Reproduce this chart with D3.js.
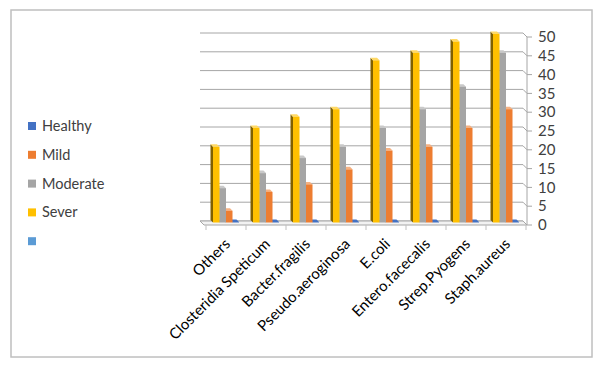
<!DOCTYPE html>
<html>
<head>
<meta charset="utf-8">
<script src="https://cdn.jsdelivr.net/npm/d3@7"></script>
<style>
  body { margin: 0; background: #fff; }
  svg { display: block; font-family: Lato, "Open Sans", sans-serif; }
</style>
</head>
<body>
<svg id="chart" width="600" height="367"></svg>
<script>
// chart data
const categories = ["Others", "Closteridia Speticum", "Bacter.fragilis", "Pseudo.aeroginosa",
                    "E.coli", "Entero.facecalis", "Strep.Pyogens", "Staph.aureus"];
const healthy  = [0, 0, 0, 0, 0, 0, 0, 0];
const mild     = [3, 8, 10, 14, 19, 20, 25, 30];
const moderate = [9, 13, 17, 20, 25, 30, 36, 45];
const sever    = [20, 25, 28, 30, 43, 45, 48, 50];
const yTicks   = [0, 5, 10, 15, 20, 25, 30, 35, 40, 45, 50];
const legendNames = ["Healthy", "Mild", "Moderate", "Sever", ""];

const series = [
    { name: "Sever",    values: sever,    color: "#FFC000", side: "#7F6000", top: "#FFD966" },
    { name: "Moderate", values: moderate, color: "#A5A5A5", side: "#6E6E6E", top: "#C9C9C9" },
    { name: "Mild",     values: mild,     color: "#ED7D31", side: "#9E4F1A", top: "#F4B183" },
    { name: "Healthy",  values: healthy,  color: "#4472C4", side: "#2F5597", top: "#4472C4" }
];
const legendColors = ["#4472C4", "#ED7D31", "#A5A5A5", "#FFC000", "#5B9BD5"];

const svg = d3.select("#chart");

// outer frame
svg.append("rect")
    .attr("x", 11).attr("y", 10).attr("width", 581).attr("height", 347)
    .attr("fill", "none").attr("stroke", "#BFBFBF").attr("stroke-width", 1.5);

const depth = 4;   // 3d offset of back wall
const y = d3.scaleLinear().domain([0, 50]).range([222, 34]);
const x0 = d3.scaleBand().domain(categories).range([206, 526]);
const x1 = d3.scaleBand().domain(series.map(s => s.name))
    .range([x0.bandwidth() * 0.175, x0.bandwidth() * 0.825]);

const wallLeft = 200, wallRight = 523;

// back wall grid lines and right side wall
const grid = svg.append("g");
yTicks.forEach(t => {
    const yb = y(t) - 1;
    grid.append("line")
        .attr("x1", wallLeft).attr("x2", wallRight)
        .attr("y1", yb).attr("y2", yb)
        .attr("stroke", "#A6A6A6").attr("stroke-width", 1);
    grid.append("path")
        .attr("d", `M${wallRight},${yb} L${wallRight + depth},${yb + depth} L${wallRight + 9},${yb + depth}`)
        .attr("fill", "none").attr("stroke", "#A6A6A6").attr("stroke-width", 1);
});
grid.append("line")
    .attr("x1", wallRight + depth).attr("x2", wallRight + depth)
    .attr("y1", y(50) - 1 + depth).attr("y2", y(0) - 1 + depth)
    .attr("stroke", "#A6A6A6");

// floor
const f0 = y(0) - 1;
svg.append("path")
    .attr("d", `M${wallLeft},${f0} L${wallRight},${f0} L${wallRight + depth},${f0 + depth} L${wallLeft + depth},${f0 + depth} Z`)
    .attr("fill", "#F2F2F2").attr("stroke", "#A6A6A6").attr("stroke-width", 1);

// category ticks
const tickXs = categories.map(c => x0(c)).concat([x0.range()[1]]);
svg.append("g").selectAll("line").data(tickXs).join("line")
    .attr("x1", d => d).attr("x2", d => d)
    .attr("y1", f0 + depth).attr("y2", f0 + depth + 5)
    .attr("stroke", "#BFBFBF");

// y labels
svg.append("g").selectAll("text").data(yTicks).join("text")
    .attr("x", 538).attr("y", d => y(d) + 3)
    .attr("dy", "0.35em")
    .attr("font-size", 15).attr("fill", "#404040")
    .text(d => d);

// bars (drawn back-to-front so the left bar covers its neighbour's side)
const bars = svg.append("g");
const sd = 2.5;
categories.forEach((c, i) => {
    series.slice().reverse().forEach(s => {
        const v = s.values[i];
        const bx = x0(c) + x1(s.name);
        const bw = x1.bandwidth();
        const top = y(v);
        const bot = y(0) + 0.5;
        // left side face
        bars.append("path")
            .attr("d", `M${bx},${top} L${bx - sd},${top - sd} L${bx - sd},${bot - sd} L${bx},${bot} Z`)
            .attr("fill", s.side);
        // top face
        bars.append("path")
            .attr("d", `M${bx},${top} L${bx - sd},${top - sd} L${bx + bw - sd},${top - sd} L${bx + bw},${top} Z`)
            .attr("fill", s.top);
        // front face
        bars.append("rect")
            .attr("x", bx).attr("y", top)
            .attr("width", bw).attr("height", bot - top)
            .attr("fill", s.color);
    });
});

// category labels
svg.append("g").selectAll("text").data(categories).join("text")
    .attr("transform", d => `translate(${x0(d) + x0.bandwidth() / 2 + 5},${245}) rotate(-45)`)
    .attr("text-anchor", "end")
    .attr("font-size", 15).attr("fill", "#000")
    .text(d => d);

// legend
const legend = svg.append("g");
legendNames.forEach((n, i) => {
    const ly = 126 + i * 28.8;
    legend.append("rect")
        .attr("x", 28).attr("y", ly - 4).attr("width", 8).attr("height", 8)
        .attr("fill", legendColors[i]);
    legend.append("text")
        .attr("x", 42).attr("y", ly).attr("dy", "0.35em")
        .attr("font-size", 14.5).attr("fill", "#404040")
        .text(n);
});
</script>
</body>
</html>
